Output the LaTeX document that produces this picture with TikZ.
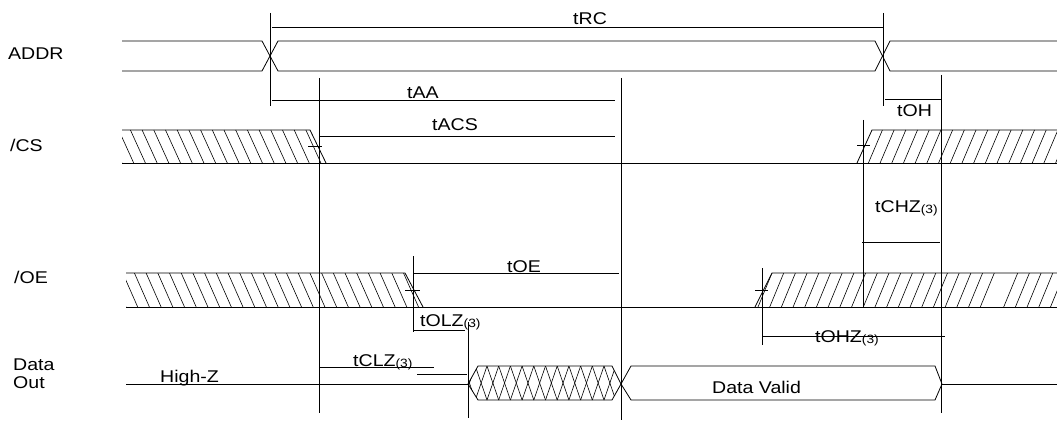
\documentclass[tikz,border=0pt]{standalone}
\usepackage{fontspec}
\setmainfont{Liberation Sans}[FakeStretch=1.15]
\usetikzlibrary{calc}
\usetikzlibrary{positioning}
\newcommand{\nthree}{\raisebox{-1.5pt}{\fontsize{12}{12}\selectfont(3)}}
\tikzset{sig/.style={line width=0.8pt},
         dim/.style={line width=0.6pt},
         hatch/.style={line width=0.6pt},
         lbl/.style={anchor=base west, inner sep=0pt, font=\fontsize{17}{19}\selectfont}}

\begin{document}
\begin{tikzpicture}[x=1pt,y=-1pt]
  \useasboundingbox (0,0) rectangle (1057,422);
  % signal names
  \node[lbl] (ADDR) at (8,60) {ADDR};
  \node[lbl] (CS) at (10,152) {/CS};
  \node[lbl] (OE) at (14,283) {/OE};
  \node[lbl] (DOa) at (13,370) {Data};
  \node[lbl] (DOb) at (13,388) {Out};
  % ADDR
  \draw[sig] (122,41) -- (262,41) -- (278,71) -- (875,71) -- (890,41) -- (1057,41);
  \draw[sig] (122,71) -- (262,71) -- (278,41) -- (875,41) -- (890,71) -- (1057,71);
  % /CS
  \draw[sig] (122,130) -- (310,130) -- (326,163);
  \draw[sig] (122,163) -- (1057,163);
  \draw[sig] (857,163) -- (872,130) -- (1057,130);
  \begin{scope}
    \clip (122,130) -- (310,130) -- (326,163) -- (122,163) -- cycle;
    \foreach \k in {0,...,18} \draw[hatch] ({107+11.7*\k},130) -- ++(15,33);
  \end{scope}
  \begin{scope}
    \clip (857,163) -- (872,130) -- (1057,130) -- (1057,163) -- cycle;
    \foreach \k in {0,...,18} \draw[hatch] ({845+11.7*\k},163) -- ++(14,-33);
  \end{scope}
  % /OE
  \draw[sig] (126,273) -- (405,273) -- (423,307);
  \draw[sig] (126,307) -- (1057,307);
  \draw[sig] (755,307) -- (772,273) -- (1057,273);
  \begin{scope}
    \clip (126,273) -- (405,273) -- (423,307) -- (126,307) -- cycle;
    \foreach \k in {0,...,26} \draw[hatch] ({111+11.7*\k},273) -- ++(15,34);
  \end{scope}
  \begin{scope}
    \clip (755,307) -- (772,273) -- (1057,273) -- (1057,307) -- cycle;
    \foreach \k in {0,...,21,23,24,25,26,27,28} \draw[hatch] ({734.6+11.7*\k},307) -- ++(14,-34);
  \end{scope}
  % Data Out
  \draw[sig] (126,384) -- (468,384);
  \draw[sig] (468,384) -- (478,366) -- (612,366) -- (621,384) -- (612,400) -- (478,400) -- cycle;
  \begin{scope}
    \clip (468,384) -- (478,366) -- (612,366) -- (621,384) -- (612,400) -- (478,400) -- cycle;
    \foreach \k in {-1,...,13} {
      \draw[hatch] ({475.3+11.7*\k},366) -- ++(11.7,34);
      \draw[hatch] ({475.3+11.7*\k},400) -- ++(11.7,-34);
    }
  \end{scope}
  \draw[sig] (621,384) -- (631,366) -- (935,366) -- (942,384) -- (935,400) -- (631,400) -- cycle;
  \draw[sig] (942,384) -- (1057,384);
  \node[lbl] (hiz) at (160,382) {High-Z};
  \node[lbl] (valid) at (712,393) {Data Valid};
  % timing marks
  \draw[dim] (270,13) -- (270,106);
  \draw[dim] (883,13) -- (883,106);
  \draw[dim] (319,78) -- (319,413);
  \draw[dim] (621,78) -- (621,420);
  \draw[dim] (941,75) -- (941,413);
  \draw[dim] (863,120) -- (863,307);
  \draw[dim] (413,256) -- (413,332);
  \draw[dim] (468,322) -- (468,418);
  \draw[dim] (762,268) -- (762,345);
  \draw[dim] (308,146) -- (322,146);
  \draw[dim] (857,145) -- (870,145);
  \draw[dim] (405,290) -- (420,290);
  \draw[dim] (755,290) -- (768,290);
  \draw[dim] (272,27) -- (883,27);
  \draw[dim] (272,100) -- (615,100);
  \draw[dim] (320,136) -- (615,136);
  \draw[dim] (885,99) -- (941,99);
  \draw[dim] (862,242) -- (940,242);
  \draw[dim] (413,273) -- (619,273);
  \draw[dim] (413,330) -- (465,330);
  \draw[dim] (319,367) -- (434,367);
  \draw[dim] (417,374) -- (467,374);
  \draw[dim] (762,336) -- (945,336);
  \node[lbl] (tRC) at (573,25) {tRC};
  \node[lbl] (tAA) at (407,99) {tAA};
  \node[lbl] (tACS) at (432,131) {tACS};
  \node[lbl] (tOH) at (897,117) {tOH};
  \node[lbl] (tCHZ) at (875,212) {tCHZ\nthree};
  \node[lbl] (tOE) at (507,272) {tOE};
  \node[lbl] (tOLZ) at (420,326) {tOLZ\nthree};
  \node[lbl] (tCLZ) at (353,366) {tCLZ\nthree};
  \node[lbl] (tOHZ) at (815,342) {tOHZ\nthree};
\end{tikzpicture}
\end{document}
